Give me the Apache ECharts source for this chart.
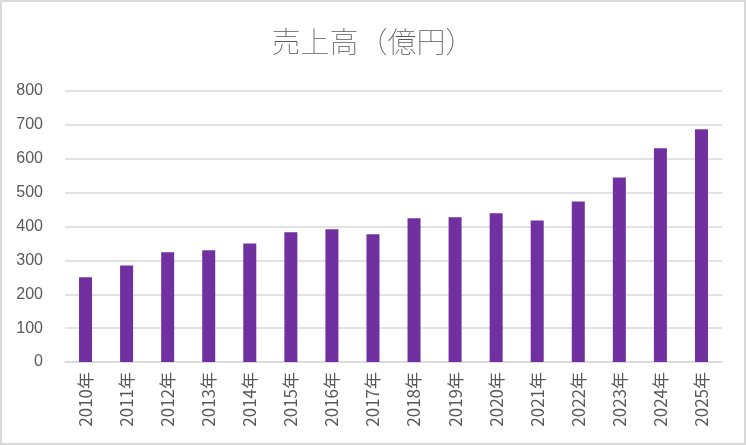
<!DOCTYPE html>
<html>
<head>
<meta charset="utf-8">
<script src="https://cdn.jsdelivr.net/npm/echarts@6/dist/echarts.min.js"></script>
<style>
html,body{margin:0;padding:0;background:#fff;}
#c{width:746px;height:445px;box-sizing:border-box;border:2px solid #d9d9d9;}
</style>
</head>
<body>
<div id="c"></div>
<script>
const titleText = '売上高（億円）';
const categories = ['2010年','2011年','2012年','2013年','2014年','2015年','2016年','2017年','2018年','2019年','2020年','2021年','2022年','2023年','2024年','2025年'];
const sales = [250, 285, 324, 330, 350, 383, 392, 377, 424, 427, 439, 418, 474, 545, 631, 687];
const yMin = 0, yMax = 800, yStep = 100;

const chart = echarts.init(document.getElementById('c'), null, {renderer:'canvas'});
const font = '"Noto Sans CJK JP", "Liberation Sans", sans-serif';
chart.setOption({
  animation: false,
  backgroundColor: '#fff',
  title: {
    text: titleText,
    left: 'center',
    top: 20,
    textStyle: {fontSize: 29, fontWeight: 'lighter', color: '#595959', fontFamily: font}
  },
  grid: {left: 63, right: 22, top: 89, bottom: 81},
  xAxis: {
    type: 'category',
    data: categories,
    axisLine: {lineStyle: {color: '#d9d9d9', width: 1.5}},
    axisTick: {show: false},
    axisLabel: {rotate: 90, color: '#595959', fontSize: 17, margin: 10, fontFamily: font, interval: 0}
  },
  yAxis: {
    type: 'value',
    min: yMin, max: yMax, interval: yStep,
    axisLine: {show: false},
    axisTick: {show: false},
    splitLine: {lineStyle: {color: '#d9d9d9', width: 1.5}},
    axisLabel: {color: '#595959', fontSize: 16, margin: 22, fontFamily: '"Liberation Sans", sans-serif'}
  },
  series: [{
    type: 'bar',
    data: sales,
    barWidth: 13,
    itemStyle: {color: '#7030A0'}
  }]
});
</script>
</body>
</html>
